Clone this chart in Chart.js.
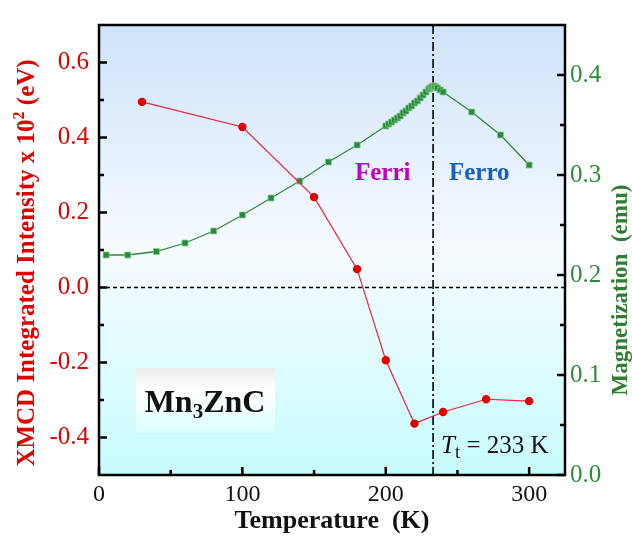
<!DOCTYPE html>
<html>
<head>
<meta charset="utf-8">
<script src="https://cdn.jsdelivr.net/npm/chart.js@4.4.1/dist/chart.umd.min.js"></script>
<style>
  html, body { margin: 0; padding: 0; background: #fff; }
</style>
</head>
<body>
<canvas id="myChart" width="632" height="538"></canvas>
<script>
// XMCD integrated intensity (left axis)
const temps = [30, 100, 150, 180, 200, 220, 240, 270, 300];
const xmcd = [0.495, 0.428, 0.241, 0.049, -0.194, -0.363, -0.332, -0.298, -0.303];

// magnetization (right axis)
const magTemps = [5, 20, 40, 60, 80, 100, 120, 140, 160, 180, 200,
  202, 204, 206, 208, 210, 212, 214, 216, 218, 220, 222, 224, 226, 228,
  230, 231, 232, 233, 234, 235, 236, 238, 240, 260, 280, 300];
const magValues = [0.220, 0.220, 0.2235, 0.232, 0.244, 0.260, 0.277, 0.294, 0.313, 0.330, 0.349,
  0.351, 0.353, 0.355, 0.357, 0.359, 0.362, 0.364, 0.367, 0.369, 0.372, 0.374, 0.377, 0.380, 0.383,
  0.386, 0.387, 0.388, 0.389, 0.389, 0.388, 0.387, 0.385, 0.383, 0.363, 0.340, 0.310];

const tempTicks = [0, 100, 200, 300];
const tempMinor = [50, 150, 250];
const xmcdTicks = [-0.4, -0.2, 0.0, 0.2, 0.4, 0.6];
const xmcdMinor = [-0.3, -0.1, 0.1, 0.3, 0.5];
const magTicks = [0.0, 0.1, 0.2, 0.3, 0.4];
const magMinor = [0.05, 0.15, 0.25, 0.35];
const tTrans = 233;

const serif = '"Liberation Serif", "Times New Roman", serif';

function drawParts(ctx, parts, x, y, align) {
  // parts: [text, font, dy]
  let total = 0;
  parts.forEach(p => { ctx.font = p[1]; total += ctx.measureText(p[0]).width; });
  let cx = align === 'center' ? x - total / 2 : x;
  ctx.textAlign = 'left';
  parts.forEach(p => {
    ctx.font = p[1];
    ctx.fillText(p[0], cx, y + (p[2] || 0));
    cx += ctx.measureText(p[0]).width;
  });
}

const decor = {
  id: 'decor',
  beforeDraw(chart) {
    const {ctx, chartArea: a} = chart;
    const g = ctx.createLinearGradient(0, a.top, 0, a.bottom);
    g.addColorStop(0, '#cfe3f9');
    g.addColorStop(0.5, '#f6fbff');
    g.addColorStop(1, '#c8fcfc');
    ctx.save();
    ctx.fillStyle = g;
    ctx.fillRect(a.left, a.top, a.right - a.left, a.bottom - a.top);
    ctx.restore();
  },
  beforeDatasetsDraw(chart) {
    const {ctx, chartArea: a, scales} = chart;
    ctx.save();
    ctx.strokeStyle = '#000';
    // zero line
    ctx.lineWidth = 1.3;
    const y0 = scales.y.getPixelForValue(0);
    ctx.setLineDash([4, 3]);
    ctx.beginPath();
    ctx.moveTo(a.left, y0);
    ctx.lineTo(a.right, y0);
    ctx.stroke();
    // transition temperature
    ctx.lineWidth = 1.6;
    const xt = scales.x.getPixelForValue(tTrans);
    ctx.setLineDash([9, 3, 2, 3]);
    ctx.beginPath();
    ctx.moveTo(xt, a.top);
    ctx.lineTo(xt, a.bottom);
    ctx.stroke();
    ctx.restore();
  },
  afterDraw(chart) {
    const {ctx, chartArea: a, scales} = chart;
    ctx.save();
    // frame
    ctx.strokeStyle = '#000';
    ctx.lineWidth = 2.5;
    ctx.strokeRect(a.left, a.top, a.right - a.left, a.bottom - a.top);
    // inward ticks
    const tick = (x1, y1, x2, y2) => { ctx.beginPath(); ctx.moveTo(x1, y1); ctx.lineTo(x2, y2); ctx.stroke(); };
    tempTicks.forEach(v => { const x = scales.x.getPixelForValue(v); tick(x, a.bottom, x, a.bottom - 8); });
    tempMinor.forEach(v => { const x = scales.x.getPixelForValue(v); tick(x, a.bottom, x, a.bottom - 5); });
    xmcdTicks.forEach(v => { const y = scales.y.getPixelForValue(v); tick(a.left, y, a.left + 8, y); });
    xmcdMinor.forEach(v => { const y = scales.y.getPixelForValue(v); tick(a.left, y, a.left + 5, y); });
    magTicks.forEach(v => { const y = scales.y2.getPixelForValue(v); tick(a.right, y, a.right - 8, y); });
    magMinor.forEach(v => { const y = scales.y2.getPixelForValue(v); tick(a.right, y, a.right - 5, y); });

    // axis titles on the y axes
    ctx.textBaseline = 'middle';
    ctx.fillStyle = '#e00000';
    ctx.save();
    ctx.translate(28, 263);
    ctx.rotate(-Math.PI / 2);
    drawParts(ctx, [
      ['XMCD Integrated Intensity x 10', 'bold 25px ' + serif, 0],
      ['2', 'bold 16px ' + serif, -8],
      [' (eV)', 'bold 25px ' + serif, 0]
    ], 0, 0, 'center');
    ctx.restore();

    ctx.fillStyle = '#2e7d32';
    ctx.save();
    ctx.translate(621, 290);
    ctx.rotate(-Math.PI / 2);
    drawParts(ctx, [['Magnetization  (emu)', 'bold 23px ' + serif, 0]], 0, 0, 'center');
    ctx.restore();

    // phase labels
    ctx.textBaseline = 'alphabetic';
    ctx.fillStyle = '#c000c0';
    drawParts(ctx, [['Ferri', 'bold 25px ' + serif, 0]], 355, 180, 'left');
    ctx.fillStyle = '#1560c0';
    drawParts(ctx, [['Ferro', 'bold 25px ' + serif, 0]], 449, 180, 'left');

    // sample label box
    const bg = ctx.createLinearGradient(0, 368, 0, 433);
    bg.addColorStop(0, '#ececec');
    bg.addColorStop(0.35, '#ffffff');
    bg.addColorStop(1, '#dcfefe');
    ctx.fillStyle = bg;
    ctx.fillRect(136, 368, 139, 65);
    ctx.fillStyle = '#111';
    drawParts(ctx, [
      ['Mn', 'bold 32px ' + serif, 0],
      ['3', 'bold 21px ' + serif, 6],
      ['ZnC', 'bold 32px ' + serif, 0]
    ], 205, 412, 'center');

    // transition label
    ctx.fillStyle = '#111';
    drawParts(ctx, [
      ['T', 'italic 25px ' + serif, 0],
      ['t', '19px ' + serif, 5],
      [' = 233 K', '25px ' + serif, 0]
    ], 441, 453, 'left');
    ctx.restore();
  }
};

const config = {
  type: 'line',
  data: {
    datasets: [
      {
        label: 'XMCD',
        data: temps.map((t, i) => ({x: t, y: xmcd[i]})),
        yAxisID: 'y',
        borderColor: '#f0203c',
        borderWidth: 1.2,
        pointBackgroundColor: '#e00000',
        pointBorderColor: '#e00000',
        pointRadius: 3.6,
        pointStyle: 'circle',
        tension: 0
      },
      {
        label: 'Magnetization',
        data: magTemps.map((t, i) => ({x: t, y: magValues[i]})),
        yAxisID: 'y2',
        borderColor: '#2e8b3a',
        borderWidth: 1.3,
        pointBackgroundColor: '#268a36',
        pointBorderColor: '#86c88d',
        pointBorderWidth: 0.8,
        pointRadius: 4.2,
        pointStyle: 'rect',
        tension: 0
      }
    ]
  },
  options: {
    responsive: false,
    animation: false,
    devicePixelRatio: 1,
    layout: { padding: { top: 12, left: 0, right: 0, bottom: 0 } },
    plugins: { legend: { display: false }, tooltip: { enabled: false } },
    scales: {
      x: {
        type: 'linear',
        min: 0,
        max: 325,
        grid: { display: false, drawTicks: false },
        border: { display: false },
        afterBuildTicks: s => { s.ticks = tempTicks.map(v => ({value: v})); },
        afterFit: s => { s.height = 63; },
        ticks: { color: '#111', padding: 5, font: { family: serif, size: 24 }, maxRotation: 0 },
        title: { display: true, text: 'Temperature  (K)', color: '#111', padding: { top: 0, bottom: 1 },
          font: { family: serif, size: 26, weight: 'bold' } }
      },
      y: {
        type: 'linear',
        position: 'left',
        min: -0.5,
        max: 0.7,
        grid: { display: false, drawTicks: false },
        border: { display: false },
        afterBuildTicks: s => { s.ticks = xmcdTicks.map(v => ({value: v})); },
        afterFit: s => { s.width = 99; },
        ticks: { color: '#e00000', padding: 10, font: { family: serif, size: 25 },
          callback: v => v.toFixed(1) }
      },
      y2: {
        type: 'linear',
        position: 'right',
        min: 0,
        max: 0.45,
        grid: { display: false, drawTicks: false },
        border: { display: false },
        afterBuildTicks: s => { s.ticks = magTicks.map(v => ({value: v})); },
        afterFit: s => { s.width = 67; },
        ticks: { color: '#2e8b3a', padding: 5, font: { family: serif, size: 25 },
          callback: v => v.toFixed(1) }
      }
    }
  },
  plugins: [decor]
};

const myChart = new Chart(document.getElementById('myChart'), config);
</script>
</body>
</html>
